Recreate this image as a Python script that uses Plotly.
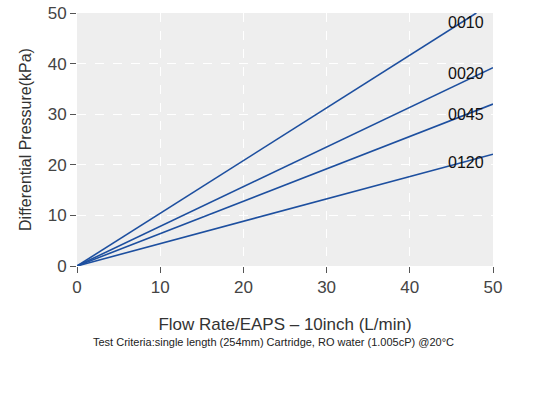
import plotly.graph_objects as go

series_names = ["0010", "0020", "0045", "0120"]
flow_x = [[0, 48], [0, 50], [0, 50], [0, 50]]
pressure_y = [[0, 50], [0, 39.2], [0, 32.0], [0, 22.1]]
label_x = [46.7, 46.7, 46.7, 46.7]
label_y = [48.1, 38.0, 29.9, 20.5]
x_ticks = [0, 10, 20, 30, 40, 50]
y_ticks = [0, 10, 20, 30, 40, 50]

FONT = "Liberation Sans, Arial, sans-serif"
LINE = "#1d4f9f"

W, H = 535, 396
L, R, T, B = 77, 42, 13, 130
PW, PH = W - L - R, H - T - B

fig = go.Figure()
for name, xs, ys in zip(series_names, flow_x, pressure_y):
    fig.add_trace(go.Scatter(x=xs, y=ys, mode="lines", name=name,
                             line=dict(color=LINE, width=1.6), showlegend=False))

for name, lx, ly in zip(series_names, label_x, label_y):
    fig.add_annotation(x=lx, y=ly, text=name, showarrow=False,
                       font=dict(family=FONT, size=16, color="#111111"))

fig.add_annotation(x=(273 - L) / PW, y=-(342 - (H - B)) / PH, xref="paper", yref="paper",
                   xanchor="center", yanchor="middle",
                   text="Test Criteria:single length (254mm) Cartridge, RO water (1.005cP) @20°C",
                   showarrow=False, font=dict(family=FONT, size=11, color="#222222"))

axis_common = dict(
    showgrid=True, gridcolor="white", griddash="dash", gridwidth=1,
    zeroline=False, showline=False, automargin=False,
    ticks="outside", ticklen=6, tickcolor="#555555", tickwidth=1,
    ticklabeloverflow="allow",
    tickfont=dict(family=FONT, size=17, color="#444444"),
    range=[0, 50],
)

fig.update_layout(
    width=W, height=H,
    margin=dict(l=L, r=R, t=T, b=B),
    paper_bgcolor="white", plot_bgcolor="#eeeeee",
    xaxis=dict(**axis_common, tickvals=x_ticks,
               title=dict(text="Flow Rate/EAPS – 10inch (L/min)", standoff=21,
                          font=dict(family=FONT, size=17, color="#333333"))),
    yaxis=dict(**axis_common, tickvals=y_ticks,
               title=dict(text="Differential Pressure(kPa)", standoff=12,
                          font=dict(family=FONT, size=16, color="#333333"))),
)
# remove the default 8px page margin so the figure sits at the window's corner
fig.write_html("out.html", config={"displayModeBar": False},
               post_script="document.body.style.margin='0';document.body.style.overflow='hidden';")
